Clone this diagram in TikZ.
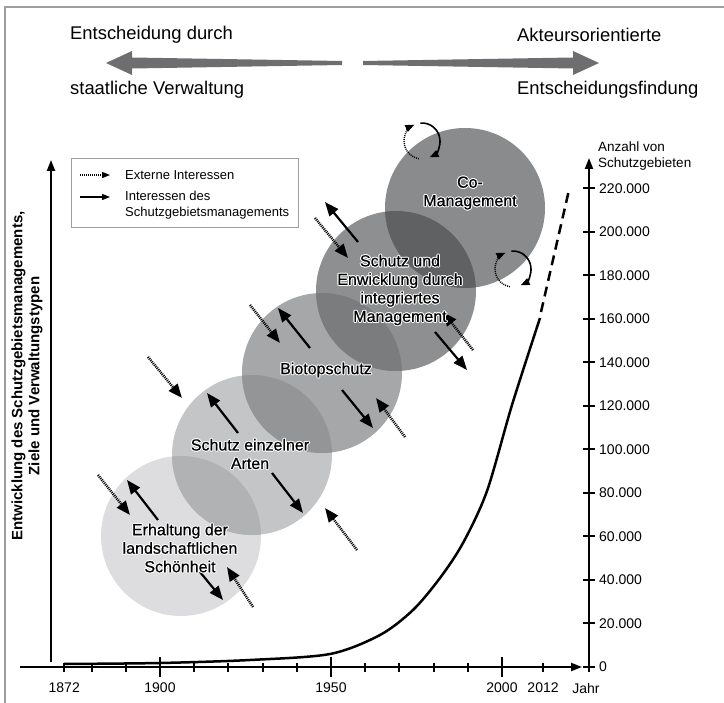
\documentclass[tikz,border=0pt]{standalone}
\usepackage{fontspec}
\setmainfont{Liberation Sans}
\newfontfamily\zonefont{Liberation Sans}[FakeBold=0.6]
\usetikzlibrary{arrows.meta}
\definecolor{FrameClr}{rgb}{0.62,0.62,0.62}
\definecolor{ArrowClr}{rgb}{0.43,0.43,0.44}
\definecolor{ZoneA}{RGB}{221,221,223}
\definecolor{ZoneB}{RGB}{196,197,199}
\definecolor{ZoneAB}{RGB}{177,178,180}
\definecolor{ZoneC}{RGB}{166,167,169}
\definecolor{ZoneBC}{RGB}{148,149,151}
\definecolor{ZoneD}{RGB}{142,143,145}
\definecolor{ZoneCD}{RGB}{123,124,126}
\definecolor{ZoneE}{RGB}{138,139,141}
\definecolor{ZoneDE}{RGB}{96,97,99}

% text with a white outline
\newcommand{\HaloLabel}[3]{%
  \foreach \ang in {0,45,...,315}
    \node[zonetext,text=white,shift={(\ang:1pt)}] at (#2) {#3};
  \node[zonetext] (#1) at (#2) {#3};}

\begin{document}
\begin{tikzpicture}[x=1pt,y=-1pt,
  every node/.style={inner sep=0pt},
  zonetext/.style={font=\zonefont\fontsize{16}{18.5}\selectfont,align=center},
  toptext/.style={font=\fontsize{18.4}{22}\selectfont,anchor=west},
  ticktext/.style={font=\fontsize{14}{16}\selectfont},
  axis/.style={line width=2pt},
  interest/.style={line width=2.2pt,-{Triangle[length=14pt,width=11pt]}},
  external/.style={line width=2.6pt,dash pattern=on 1pt off 1pt,-{Triangle[length=14pt,width=11pt]}},
  turn/.style={line width=1.6pt,-{Triangle[length=9pt,width=7pt]}}]
\useasboundingbox (0,0) rectangle (724,703);

% frame
\draw[FrameClr,line width=1.2pt] (5,703) -- (5,7) -- (724,7);

% decision arrows
\fill[ArrowClr] (342,61) -- (132,57.5) -- (132,51) -- (106,63) -- (132,75) -- (132,68.5) -- (342,65) -- cycle;
\fill[ArrowClr] (363,61) -- (573,57.5) -- (573,51) -- (599,63) -- (573,75) -- (573,68.5) -- (363,65) -- cycle;
\node[toptext] (st1) at (70,35) {Entscheidung durch};
\node[toptext] (st2) at (70,90) {staatliche Verwaltung};
\node[toptext] (ak1) at (517,35) {Akteursorientierte};
\node[toptext] (ak2) at (517,90) {Entscheidungsfindung};

% management zones
\coordinate (Z1) at (181,536);
\coordinate (Z2) at (252,455);
\coordinate (Z3) at (322,373);
\coordinate (Z4) at (396,291);
\coordinate (Z5) at (465,208);
\fill[ZoneA] (Z1) circle[radius=80];
\fill[ZoneB] (Z2) circle[radius=80];
\begin{scope}
  \clip (Z1) circle[radius=80];
  \fill[ZoneAB] (Z2) circle[radius=80];
\end{scope}
\fill[ZoneC] (Z3) circle[radius=80];
\begin{scope}
  \clip (Z2) circle[radius=80];
  \fill[ZoneBC] (Z3) circle[radius=80];
\end{scope}
\fill[ZoneD] (Z4) circle[radius=80];
\begin{scope}
  \clip (Z3) circle[radius=80];
  \fill[ZoneCD] (Z4) circle[radius=80];
\end{scope}
\fill[ZoneE] (Z5) circle[radius=80];
\begin{scope}
  \clip (Z4) circle[radius=80];
  \fill[ZoneDE] (Z5) circle[radius=80];
\end{scope}

% interests of the management (solid) and external interests (dotted)
\coordinate (s1a) at (158,520); \coordinate (s1b) at (127,480);
\coordinate (s2a) at (200,572); \coordinate (s2b) at (223,600);
\coordinate (s3a) at (238,433); \coordinate (s3b) at (207,393);
\coordinate (s4a) at (272,473); \coordinate (s4b) at (303,513);
\coordinate (s5a) at (310,348); \coordinate (s5b) at (278,308);
\coordinate (s6a) at (342,390); \coordinate (s6b) at (373,428);
\coordinate (s7a) at (358,242); \coordinate (s7b) at (325,202);
\coordinate (s8a) at (435,332); \coordinate (s8b) at (467,370);
\foreach \i in {1,...,8}
  \draw[interest] (s\i a) -- (s\i b);

\coordinate (d1a) at (98,475);  \coordinate (d1b) at (130,515);
\coordinate (d2a) at (253,607); \coordinate (d2b) at (227,567);
\coordinate (d3a) at (148,357); \coordinate (d3b) at (182,398);
\coordinate (d4a) at (357,550); \coordinate (d4b) at (325,508);
\coordinate (d5a) at (250,305); \coordinate (d5b) at (280,343);
\coordinate (d6a) at (405,437); \coordinate (d6b) at (376,398);
\coordinate (d7a) at (315,218); \coordinate (d7b) at (348,258);
\coordinate (d8a) at (473,350); \coordinate (d8b) at (443,312);
\foreach \i in {1,...,8}
  \draw[external] (d\i a) -- (d\i b);

% co-management cycles
\foreach \c in {(422,141),(513,269)} {
  \draw[turn] \c ++(-95:18) arc[start angle=-95,end angle=65,radius=18];
  \draw[turn,line width=1.4pt,dash pattern=on 1pt off 1pt] \c ++(100:18) arc[start angle=100,end angle=245,radius=18];
}

\HaloLabel{t1}{180,548}{Erhaltung der\\landschaftlichen\\Schönheit}
\HaloLabel{t2}{250,454}{Schutz einzelner\\Arten}
\HaloLabel{t3}{326,370}{Biotopschutz}
\HaloLabel{t4}{400,290}{Schutz und\\Enwicklung durch\\integriertes\\Management}
\HaloLabel{t5}{470,193}{Co-\\Management}

% legend
\draw[FrameClr,fill=white,line width=1pt] (71,159) rectangle (298,228);
\coordinate (l1a) at (80,175); \coordinate (l1b) at (110,175);
\coordinate (l2a) at (80,197); \coordinate (l2b) at (110,197);
\draw[line width=1.2pt,dash pattern=on 1pt off 1pt,-{Triangle[length=8pt,width=6pt]}] (l1a) -- (l1b);
\draw[line width=1.2pt,-{Triangle[length=8pt,width=6pt]}] (l2a) -- (l2b);
\node[anchor=west,font=\fontsize{13}{16}\selectfont] (lg1) at (125,175) {Externe Interessen};
\node[anchor=west,align=left,font=\fontsize{13}{16}\selectfont] (lg2) at (125,205) {Interessen des\\Schutzgebietsmanagements};

% axes
\draw[axis,-{Triangle[length=11pt,width=8pt]}] (51,662) -- (51,160);
\draw[axis,-{Triangle[length=11pt,width=8pt]}] (20,667) -- (582,667);
\draw[axis,-{Triangle[length=11pt,width=8pt]}] (589,672) -- (589,158);
\node[rotate=90,align=center,font=\bfseries\fontsize{15}{17}\selectfont] (ylab) at (27,376)
  {Entwicklung des Schutzgebietsmanagements,\\Ziele und Verwaltungstypen};

% years
\foreach \yr in {1872,1880,1890,1910,1920,1930,1940,1960,1970,1980,1990,2012}
  \draw[axis] ({160+3.42*(\yr-1900)},663) -- ({160+3.42*(\yr-1900)},672);
\foreach \yr in {1900,1950,2000}
  \draw[axis] ({160+3.42*(\yr-1900)},657) -- ({160+3.42*(\yr-1900)},677);
\foreach \yr in {1872,1900,1950,2000,2012}
  \node[ticktext] (y\yr) at ({160+3.42*(\yr-1900)},688) {\yr};
\node[ticktext] (jahr) at (586,688) {Jahr};

% number of protected areas
\foreach \k/\lab in {0/0,1/20.000,2/40.000,3/60.000,4/80.000,5/100.000,6/120.000,7/140.000,8/160.000,9/180.000,10/200.000,11/220.000} {
  \draw[axis] (583,{667-43.5*\k}) -- (595,{667-43.5*\k});
  \node[ticktext,anchor=west] (n\k) at (599,{667-43.5*\k}) {\lab};
}
\node[anchor=south west,align=left,font=\fontsize{13.5}{16}\selectfont] (anz) at (598,171) {Anzahl von\\Schutzgebieten};

\draw[line width=2.5pt] plot[smooth] coordinates {(64,664) (160,663) (250,660) (330,654) (380,635) (413,610) (440,578) (463,543) (487,491) (512,405) (540,318)};
\draw[line width=2.5pt,dash pattern=on 10pt off 6pt] (541,312) -- (569,190);
\end{tikzpicture}
\end{document}
